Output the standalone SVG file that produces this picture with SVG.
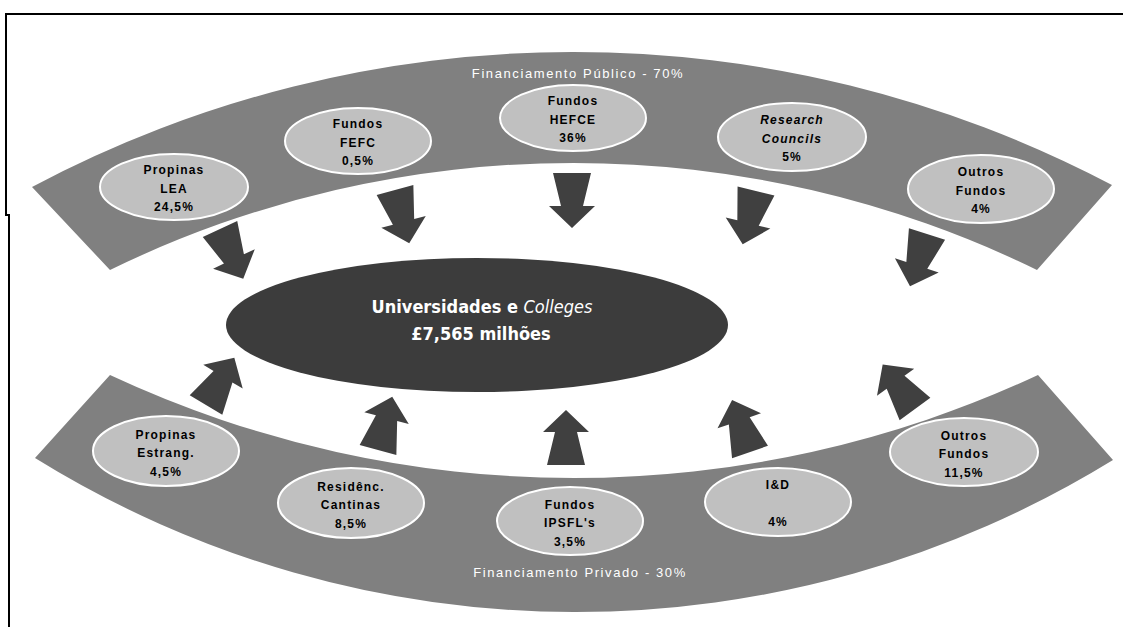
<svg xmlns="http://www.w3.org/2000/svg" width="1123" height="627" viewBox="0 0 1123 627">
<style>
.band{fill:#808080}
.node{fill:#c0c0c0;stroke:#ffffff;stroke-width:2}
.arrow{fill:#404040}
.t{font-family:"Liberation Sans",Arial,sans-serif;font-size:12px;font-weight:bold;fill:#000;text-anchor:middle;letter-spacing:1.2px}
.lbl{font-family:"Liberation Sans",Arial,sans-serif;font-size:13px;fill:#fff;text-anchor:middle;letter-spacing:1.6px}
.ct{font-family:"DejaVu Sans Condensed","Liberation Sans",sans-serif;font-size:18px;font-weight:bold;fill:#fff;text-anchor:middle}
</style>
<defs>
<path id="arr" d="M0,-55 L23,-33 L11,-33 L19,0 L-19,0 L-11,-33 L-23,-33 Z"/>
</defs>
<rect width="1123" height="627" fill="#fff"/>
<path d="M1123,14 H6 V215 H9 V627" fill="none" stroke="#000" stroke-width="2"/>

<g id="band-publico">
<path class="band" d="M32,187 A1155,1155 0 0 1 1112,185 L1037,270 A1057,1057 0 0 0 110,270 Z"/>
<text class="lbl" x="578" y="78">Financiamento Público - 70%</text>
</g>
<g id="band-privado">
<path class="band" d="M110,375 A1097,1097 0 0 0 1038,375 L1113,460 A1026,1026 0 0 1 35,458 Z"/>
<text class="lbl" x="580" y="577">Financiamento Privado - 30%</text>
</g>

<g id="connectors" class="arrow">
<use href="#arr" transform="translate(220,229) rotate(155)"/>
<use href="#arr" transform="translate(395,190) rotate(165)"/>
<use href="#arr" transform="translate(572,173) rotate(180)"/>
<use href="#arr" transform="translate(756,191) rotate(194)"/>
<use href="#arr" transform="translate(927,234) rotate(198)"/>
<use href="#arr" transform="translate(206,405) rotate(31)"/>
<use href="#arr" transform="translate(378,450) rotate(15)"/>
<use href="#arr" transform="translate(566,465) rotate(0)"/>
<use href="#arr" transform="translate(750,452) rotate(-19)"/>
<use href="#arr" transform="translate(915,409) rotate(-36)"/>
</g>

<g id="centro">
<ellipse cx="477" cy="325" rx="251" ry="67" fill="#3c3c3c"/>
<text class="ct" x="482" y="313">Universidades e <tspan font-style="italic" font-weight="normal">Colleges</tspan></text>
<text class="ct" x="481" y="340">£7,565 milhões</text>
</g>

<g id="propinas-lea">
<ellipse class="node" cx="174" cy="187" rx="74" ry="33"/>
<text class="t" x="174" y="174">Propinas</text>
<text class="t" x="174" y="193">LEA</text>
<text class="t" x="174" y="211">24,5%</text>
</g>
<g id="fundos-fefc">
<ellipse class="node" cx="358" cy="141" rx="73" ry="33"/>
<text class="t" x="358" y="128">Fundos</text>
<text class="t" x="358" y="147">FEFC</text>
<text class="t" x="358" y="165">0,5%</text>
</g>
<g id="fundos-hefce">
<ellipse class="node" cx="573" cy="118" rx="73" ry="33"/>
<text class="t" x="573" y="105">Fundos</text>
<text class="t" x="573" y="124">HEFCE</text>
<text class="t" x="573" y="142">36%</text>
</g>
<g id="research-councils">
<ellipse class="node" cx="792" cy="137" rx="74" ry="34"/>
<text class="t" x="792" y="124" font-style="italic">Research</text>
<text class="t" x="792" y="143" font-style="italic">Councils</text>
<text class="t" x="792" y="161">5%</text>
</g>
<g id="outros-fundos-pub">
<ellipse class="node" cx="981" cy="189" rx="73" ry="34"/>
<text class="t" x="981" y="176">Outros</text>
<text class="t" x="981" y="195">Fundos</text>
<text class="t" x="981" y="213">4%</text>
</g>

<g id="propinas-estrang">
<ellipse class="node" cx="166" cy="451" rx="73" ry="35"/>
<text class="t" x="166" y="439">Propinas</text>
<text class="t" x="166" y="457">Estrang.</text>
<text class="t" x="166" y="476">4,5%</text>
</g>
<g id="residenc-cantinas">
<ellipse class="node" cx="351" cy="503" rx="73" ry="35"/>
<text class="t" x="351" y="491">Residênc.</text>
<text class="t" x="351" y="509">Cantinas</text>
<text class="t" x="351" y="528">8,5%</text>
</g>
<g id="fundos-ipsfl">
<ellipse class="node" cx="570" cy="521" rx="73" ry="34"/>
<text class="t" x="570" y="509">Fundos</text>
<text class="t" x="570" y="527">IPSFL's</text>
<text class="t" x="570" y="546">3,5%</text>
</g>
<g id="i-d">
<ellipse class="node" cx="778" cy="502" rx="73" ry="34"/>
<text class="t" x="778" y="489">I&amp;D</text>
<text class="t" x="778" y="526">4%</text>
</g>
<g id="outros-fundos-priv">
<ellipse class="node" cx="964" cy="452" rx="74" ry="34"/>
<text class="t" x="964" y="440">Outros</text>
<text class="t" x="964" y="458">Fundos</text>
<text class="t" x="964" y="477">11,5%</text>
</g>
</svg>
